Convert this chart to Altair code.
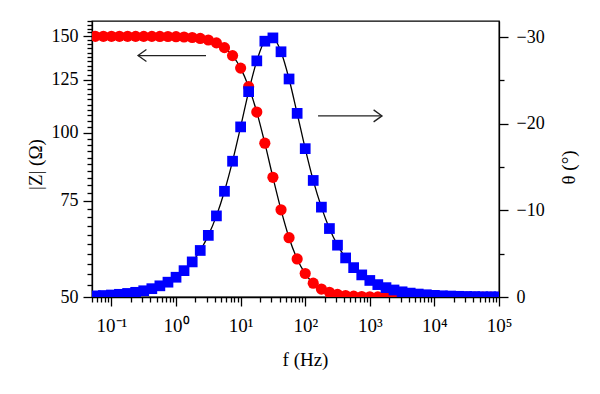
import altair as alt
import pandas as pd

# ---- data ----
freq_hz = [0.0562, 0.075, 0.1, 0.133, 0.178, 0.237, 0.316, 0.422, 0.562, 0.75,
           1.0, 1.33, 1.78, 2.37, 3.16, 4.22, 5.62, 7.5, 10, 13.3,
           17.8, 23.7, 31.6, 42.2, 56.2, 75, 100, 133, 178, 237,
           316, 422, 562, 750, 1000, 1330, 1780, 2370, 3160, 4220,
           5620, 7500, 10000, 13300, 17800, 23700, 31600, 42200, 56200, 75000,
           100000]

z_ohm = [150.0, 150.0, 150.0, 150.0, 150.0, 149.98, 149.97, 149.95, 149.92, 149.87,
         149.76, 149.58, 149.25, 148.67, 147.68, 145.9, 143.0, 138.3, 131.2, 121.3,
         109.0, 95.6, 82.8, 72.2, 64.2, 58.7, 55.2, 53.0, 51.7, 51.0,
         50.55, 50.31, 50.18, 50.10, 50.06, 50.03, 50.02, 50.01, 50.0, 50.0,
         50.0, 50.0, 50.0, 50.0, 50.0, 50.0, 50.0, 50.0, 50.0, 50.0,
         50.0]

theta_deg = [-0.13, -0.17, -0.23, -0.31, -0.41, -0.54, -0.72, -0.96, -1.29, -1.71,
             -2.28, -3.04, -4.05, -5.37, -7.11, -9.36, -12.2, -15.67, -19.63, -23.7,
             -27.25, -29.52, -29.9, -28.3, -25.16, -21.19, -17.12, -13.45, -10.37, -7.90,
             -5.98, -4.51, -3.39, -2.55, -1.91, -1.43, -1.08, -0.81, -0.60, -0.45,
             -0.34, -0.26, -0.19, -0.14, -0.11, -0.08, -0.06, -0.05, -0.03, -0.03,
             -0.02]

df = pd.DataFrame({"f": freq_hz, "z": z_ohm, "theta": theta_deg})

# arrows (annotation) in data coordinates
arrow_z = pd.DataFrame({"f_start": [2.91], "f_end": [0.258], "z": [138.3]})
arrow_t = pd.DataFrame({"f_start": [158.0], "f_end": [1545.0], "theta": [-20.9]})

FONT = "Liberation Serif"
RED = "#ff0000"
BLUE = "#0000ff"

x_ticks = sorted({round(m * 10.0 ** d, 10) for d in range(-2, 6) for m in range(1, 10)
                  if 0.05 <= round(m * 10.0 ** d, 10) <= 100000})
z_ticks = [50 + 2.5 * i for i in range(45)]
t_ticks = [-5 * i for i in range(7)]

x_scale = alt.Scale(type="log", domain=[0.05, 100000], nice=False)
z_scale = alt.Scale(type="log", domain=[50, 160], nice=False)
t_scale = alt.Scale(domain=[-31.85, 0], reverse=True, nice=False, zero=False)

x_axis = alt.Axis(
    values=x_ticks,
    labelExpr=("datum.value == 0.1 ? '10⁻¹' : datum.value == 1 ? '10⁰' : "
               "datum.value == 10 ? '10¹' : datum.value == 100 ? '10²' : "
               "datum.value == 1000 ? '10³' : datum.value == 10000 ? '10⁴' : "
               "datum.value == 100000 ? '10⁵' : ''"),
    tickSize={"condition": {"test": "abs(log(datum.value)/LN10 - round(log(datum.value)/LN10)) < 0.001",
                            "value": 9}, "value": 5},
    title="f (Hz)", titleX=213, titleY=62, titleBaseline="middle", titleAlign="center",
    grid=False, labelFlush=False, labelOverlap=False, labelPadding=10, labelFontSize=19,
)

z_axis = alt.Axis(
    orient="left", values=z_ticks,
    labelExpr="datum.value % 25 == 0 ? format(datum.value, 'd') : ''",
    tickSize={"condition": {"test": "datum.value % 25 == 0", "value": 9}, "value": 5},
    title="|Z| (Ω)", titleAngle=270, titleX=-57, titleY=143,
    titleBaseline="middle", titleAlign="center",
    grid=False, labelFlush=False, labelOverlap=False, labelPadding=5,
)

t_axis = alt.Axis(
    orient="right", values=t_ticks,
    labelExpr="datum.value % 10 == 0 ? format(datum.value, 'd') : ''",
    tickSize={"condition": {"test": "datum.value % 10 == 0", "value": 9}, "value": 5},
    title="θ (°)", titleAngle=270, titleX=69, titleY=146,
    titleBaseline="middle", titleAlign="center",
    grid=False, labelFlush=False, labelOverlap=False, labelPadding=8,
)

X = alt.X("f:Q", scale=x_scale, axis=x_axis)

z_line = alt.Chart(df).mark_line(color="black", strokeWidth=1.3, interpolate="monotone", clip=True).encode(
    x=X, y=alt.Y("z:Q", scale=z_scale, axis=None))
t_line = alt.Chart(df).mark_line(color="black", strokeWidth=1.3, interpolate="monotone", clip=True).encode(
    x=X, y=alt.Y("theta:Q", scale=t_scale, axis=None))
z_pts = alt.Chart(df).mark_point(shape="circle", filled=True, color=RED, opacity=1, size=125, clip=True).encode(
    x=X, y=alt.Y("z:Q", scale=z_scale, axis=z_axis))
t_pts = alt.Chart(df).mark_point(shape="square", filled=True, color=BLUE, opacity=1, size=115, clip=True).encode(
    x=X, y=alt.Y("theta:Q", scale=t_scale, axis=t_axis))

ARROW = "#222222"
az_shaft = alt.Chart(arrow_z).mark_rule(color=ARROW, strokeWidth=1.3).encode(
    x=alt.X("f_start:Q", scale=x_scale, axis=x_axis), x2="f_end:Q",
    y=alt.Y("z:Q", scale=z_scale, axis=None))
az_head = alt.Chart(arrow_z).mark_point(shape="M1.4,-1L0,0L1.4,1", filled=False, color=ARROW,
                                        strokeWidth=1.3, size=144, opacity=1).encode(
    x=alt.X("f_end:Q", scale=x_scale, axis=x_axis),
    y=alt.Y("z:Q", scale=z_scale, axis=None))
at_shaft = alt.Chart(arrow_t).mark_rule(color=ARROW, strokeWidth=1.3).encode(
    x=alt.X("f_start:Q", scale=x_scale, axis=x_axis), x2="f_end:Q",
    y=alt.Y("theta:Q", scale=t_scale, axis=None))
at_head = alt.Chart(arrow_t).mark_point(shape="M-1.4,-1L0,0L-1.4,1", filled=False, color=ARROW,
                                        strokeWidth=1.3, size=144, opacity=1).encode(
    x=alt.X("f_end:Q", scale=x_scale, axis=x_axis),
    y=alt.Y("theta:Q", scale=t_scale, axis=None))

chart = (
    alt.layer(z_line, t_line, z_pts, t_pts, az_shaft, az_head, at_shaft, at_head)
    .resolve_scale(y="independent")
    .properties(width=407, height=276,
                autosize=alt.AutoSizeParams(type="none"),
                padding={"left": 84, "top": 13, "right": 93, "bottom": 89})
    .configure_view(stroke="black", strokeWidth=1.3)
    .configure_axis(labelFont=FONT, titleFont=FONT, labelFontSize=18, titleFontSize=19,
                    titleFontWeight="normal", labelColor="black", titleColor="black",
                    domainColor="black", tickColor="black", domainWidth=1.3, tickWidth=1.3)
)

chart.save("out.html", embed_options={"renderer": "svg", "actions": False})
